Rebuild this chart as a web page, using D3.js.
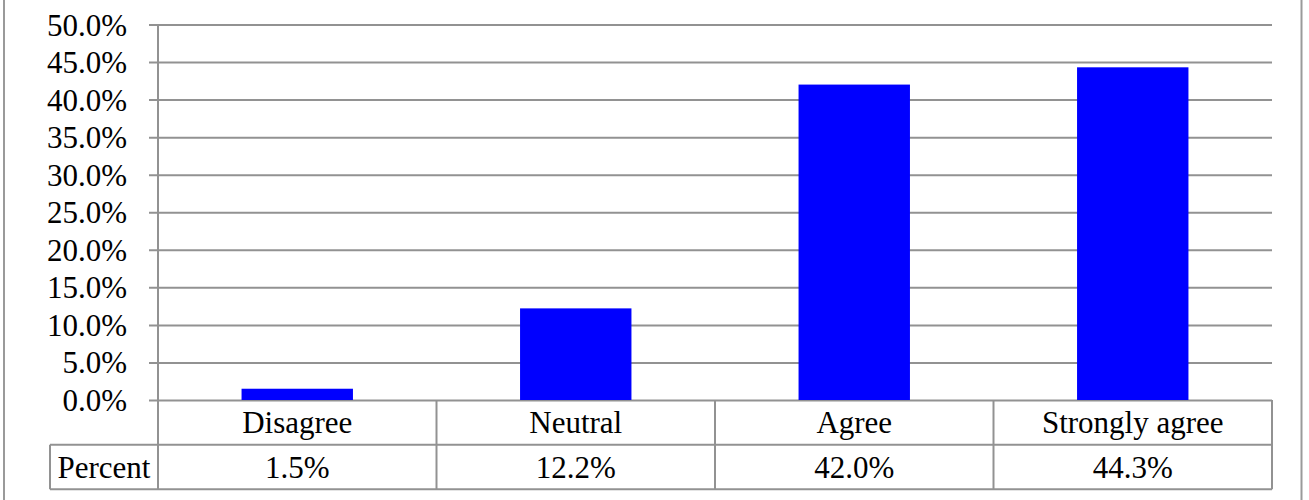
<!DOCTYPE html>
<html>
<head>
<meta charset="utf-8">
<script src="https://cdn.jsdelivr.net/npm/d3@7"></script>
<style>
  html, body { margin: 0; padding: 0; background: #fff; }
  svg { display: block; }
  text { font-family: "Liberation Serif", "Times New Roman", serif; fill: #000; }
</style>
</head>
<body>
<svg id="chart" width="1309" height="500"></svg>
<script>
// Survey response shares
const categories = ["Disagree", "Neutral", "Agree", "Strongly agree"];
const percentValues = [1.5, 12.2, 42.0, 44.3];
const tickValues = [0, 5, 10, 15, 20, 25, 30, 35, 40, 45, 50];
const rowLabel = "Percent";

const svg = d3.select("#chart");
const gridColor = "#929292";
const fontSize = 31;

const plot = { left: 158, right: 1272, top: 24.5, bottom: 400 };
const table = { left: 50, row1: 400, row2: 444.7, bottom: 489.3 };

const x = d3.scaleBand()
  .domain(categories)
  .range([plot.left, plot.right])
  .paddingInner(0.6)
  .paddingOuter(0.3);

const y = d3.scaleLinear()
  .domain([0, 50])
  .range([plot.bottom, plot.top]);

// Outer frame (left and right edges)
svg.append("line").attr("x1", 4).attr("x2", 4).attr("y1", 0).attr("y2", 500)
  .attr("stroke", "#9a9a9a").attr("stroke-width", 2);
svg.append("line").attr("x1", 1301.5).attr("x2", 1301.5).attr("y1", 0).attr("y2", 500)
  .attr("stroke", "#9a9a9a").attr("stroke-width", 2);

// Horizontal gridlines with tick stubs
const yAxis = d3.axisLeft(y)
  .tickValues(tickValues)
  .tickSize(plot.right - plot.left + 9)
  .tickFormat(d => d3.format(".1f")(d) + "%");

const gAxis = svg.append("g")
  .attr("transform", `translate(${plot.right},0)`)
  .call(yAxis);
gAxis.select(".domain").remove();
gAxis.selectAll(".tick line")
  .attr("stroke", gridColor).attr("stroke-width", 2);
gAxis.selectAll(".tick text")
  .attr("x", -(plot.right - 127))
  .attr("dy", "0.34em")
  .attr("font-size", fontSize)
  .attr("text-anchor", "end");

// Vertical axis line
svg.append("line")
  .attr("x1", plot.left).attr("x2", plot.left)
  .attr("y1", plot.top).attr("y2", table.bottom)
  .attr("stroke", gridColor).attr("stroke-width", 2);

// Bars
svg.append("g").selectAll("rect")
  .data(categories)
  .join("rect")
  .attr("x", d => x(d))
  .attr("width", x.bandwidth())
  .attr("y", (d, i) => y(percentValues[i]))
  .attr("height", (d, i) => y(0) - y(percentValues[i]))
  .attr("fill", "#0000ff");

// Data table below the axis
const step = x.step();
const boundaries = categories.map(d => x(d) - x.bandwidth() * 0 - (step - x.bandwidth()) / 2);
boundaries.push(plot.right);

const gTable = svg.append("g");
boundaries.forEach(bx => {
  gTable.append("line")
    .attr("x1", bx).attr("x2", bx)
    .attr("y1", table.row1).attr("y2", table.bottom)
    .attr("stroke", gridColor).attr("stroke-width", 2);
});
[table.row2, table.bottom].forEach(ly => {
  gTable.append("line")
    .attr("x1", table.left).attr("x2", plot.right)
    .attr("y1", ly).attr("y2", ly)
    .attr("stroke", gridColor).attr("stroke-width", 2);
});
gTable.append("line")
  .attr("x1", table.left).attr("x2", table.left)
  .attr("y1", table.row2).attr("y2", table.bottom)
  .attr("stroke", gridColor).attr("stroke-width", 2);

gTable.selectAll("text.cat")
  .data(categories)
  .join("text")
  .attr("class", "cat")
  .attr("x", d => x(d) + x.bandwidth() / 2)
  .attr("y", (table.row1 + table.row2) / 2)
  .attr("dy", "0.34em")
  .attr("text-anchor", "middle")
  .attr("font-size", fontSize)
  .text(d => d);

gTable.selectAll("text.val")
  .data(categories)
  .join("text")
  .attr("class", "val")
  .attr("x", d => x(d) + x.bandwidth() / 2)
  .attr("y", (table.row2 + table.bottom) / 2)
  .attr("dy", "0.34em")
  .attr("text-anchor", "middle")
  .attr("font-size", fontSize)
  .text((d, i) => d3.format(".1f")(percentValues[i]) + "%");

gTable.append("text")
  .attr("x", (table.left + plot.left) / 2)
  .attr("y", (table.row2 + table.bottom) / 2)
  .attr("dy", "0.34em")
  .attr("text-anchor", "middle")
  .attr("font-size", fontSize)
  .text(rowLabel);
</script>
</body>
</html>
